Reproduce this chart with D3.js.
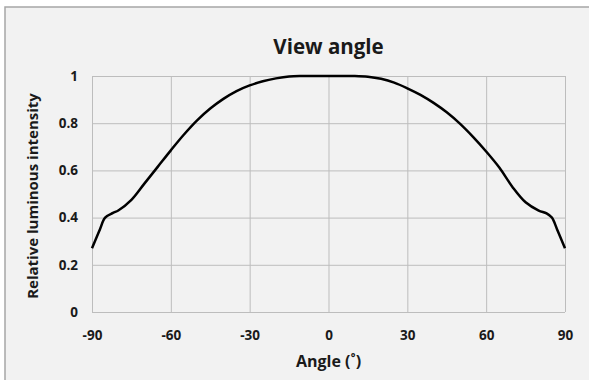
<!DOCTYPE html>
<head>
    <meta charset="utf-8">
    <script src="https://d3js.org/d3.v7.min.js"></script>
    <style>
        body { margin: 0; background: #fff; }
        text { font-family: "Open Sans", sans-serif; font-weight: bold; fill: #1a1a1a; }
        .grid line { stroke: #bdbdbd; stroke-width: 1; }
        .grid path { display: none; }
        .tick text { font-size: 13.5px; }
    </style>
</head>
<body>
    <div id='chart-container'></div>
</body>
<script>
    // angle (deg) and relative luminous intensity
    var angles = [-90, -87, -85, -82, -80, -75, -70, -65, -60, -55, -50, -45, -40, -35, -30, -25, -20, -15, -10, 0,
                  10, 15, 20, 25, 30, 35, 40, 45, 50, 55, 60, 65, 70, 75, 80, 83, 85, 87, 90];
    var intensity = [0.27, 0.35, 0.40, 0.42, 0.43, 0.475, 0.545, 0.615, 0.685, 0.752, 0.812, 0.862, 0.903, 0.936, 0.96, 0.978, 0.99, 0.998, 1.0, 1.0,
                     1.0, 0.997, 0.988, 0.972, 0.948, 0.92, 0.886, 0.846, 0.798, 0.742, 0.68, 0.612, 0.53, 0.465, 0.43, 0.418, 0.40, 0.35, 0.27];
    var xTicks = [-90, -60, -30, 0, 30, 60, 90];
    var yTicks = [0, 0.2, 0.4, 0.6, 0.8, 1];

    var W = 589, H = 380;
    var margin = { top: 76, right: 24, bottom: 68, left: 92 };
    var width = W - margin.left - margin.right;
    var height = H - margin.top - margin.bottom;

    var root = d3.select("#chart-container").append("svg")
        .attr("width", W)
        .attr("height", H);

    // chart area background + frame
    root.append("rect")
        .attr("x", 5).attr("y", 7)
        .attr("width", W).attr("height", H)
        .attr("fill", "#f2f2f2")
        .attr("stroke", "#a6a6a6")
        .attr("stroke-width", 1.5);

    var svg = root.append("g")
        .attr("transform", "translate(" + margin.left + "," + margin.top + ")");

    var x = d3.scaleLinear().domain([-90, 90]).range([0, width]);
    var y = d3.scaleLinear().domain([0, 1]).range([height, 0]);

    // grid
    svg.append("g")
        .attr("class", "grid")
        .attr("transform", "translate(0," + height + ")")
        .call(d3.axisBottom(x).tickValues(xTicks).tickSize(-height).tickFormat(""));
    svg.append("g")
        .attr("class", "grid")
        .call(d3.axisLeft(y).tickValues(yTicks).tickSize(-width).tickFormat(""));

    // tick labels (plain hyphen as minus, like the original)
    var xAxis = svg.append("g")
        .attr("transform", "translate(0," + height + ")")
        .call(d3.axisBottom(x).tickValues(xTicks).tickSize(0).tickPadding(18).tickFormat(function(d){ return String(d); }));
    xAxis.select(".domain").remove();

    var yAxis = svg.append("g")
        .call(d3.axisLeft(y).tickValues(yTicks).tickSize(0).tickPadding(14).tickFormat(function(d){ return String(d); }));
    yAxis.select(".domain").remove();

    // curve
    var data = angles.map(function(a, i){ return { a: a, v: intensity[i] }; });
    var line = d3.line()
        .x(function(d){ return x(d.a); })
        .y(function(d){ return y(d.v); })
        .curve(d3.curveCatmullRom.alpha(0.5));

    svg.append("path")
        .datum(data)
        .attr("fill", "none")
        .attr("stroke", "#000")
        .attr("stroke-width", 2.5)
        .attr("d", line);

    // titles
    root.append("text")
        .attr("x", margin.left + width / 2)
        .attr("y", 54)
        .attr("text-anchor", "middle")
        .style("font-size", "20.5px")
        .text("View angle");

    root.append("text")
        .attr("x", margin.left + width / 2)
        .attr("y", 367)
        .attr("text-anchor", "middle")
        .style("font-size", "16px")
        .text("Angle (˚)");

    root.append("text")
        .attr("transform", "translate(38," + (margin.top + height / 2 + 2) + ") rotate(-90)")
        .attr("text-anchor", "middle")
        .style("font-size", "15px")
        .text("Relative luminous intensity");
</script>
